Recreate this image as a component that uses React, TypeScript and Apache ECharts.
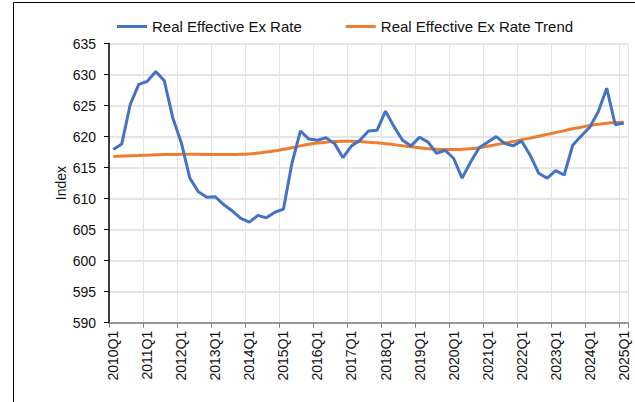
import React, { useEffect, useRef } from "react";
import * as echarts from "echarts";

const years = [2010, 2011, 2012, 2013, 2014, 2015, 2016, 2017, 2018, 2019, 2020, 2021, 2022, 2023, 2024, 2025];
const quarters = ["Q1", "Q2", "Q3", "Q4"];
const categories: string[] = [];
years.forEach((y) => quarters.forEach((q) => { if (y < 2025 || q === "Q1") categories.push(`${y}${q}`); }));

const reerValues = [
  617.9, 618.8, 625.2, 628.4, 628.9, 630.5, 629.0, 623.0,
  619.0, 613.3, 611.1, 610.2, 610.3, 609.0, 608.0, 606.8,
  606.2, 607.3, 606.9, 607.8, 608.3, 615.7, 620.9, 619.6,
  619.4, 619.8, 618.9, 616.6, 618.5, 619.4, 620.9, 621.0,
  624.1, 621.6, 619.4, 618.5, 619.9, 619.1, 617.3, 617.8,
  616.5, 613.3, 615.9, 618.2, 619.1, 620.0, 618.9, 618.5,
  619.3, 617.0, 614.1, 613.3, 614.5, 613.8, 618.6, 620.1,
  621.5, 624.0, 627.8, 621.9, 622.2,
];

const trendValues = [
  616.8, 616.85, 616.9, 616.95, 617.0, 617.05, 617.1, 617.1,
  617.15, 617.15, 617.15, 617.1, 617.1, 617.1, 617.1, 617.15,
  617.2, 617.35, 617.5, 617.7, 617.95, 618.2, 618.5, 618.75,
  618.95, 619.1, 619.2, 619.25, 619.25, 619.2, 619.1, 619.0,
  618.85, 618.7, 618.5, 618.35, 618.2, 618.05, 617.95, 617.9,
  617.9, 617.95, 618.05, 618.2, 618.45, 618.7, 618.95, 619.2,
  619.5, 619.75, 620.05, 620.35, 620.65, 620.95, 621.25, 621.5,
  621.8, 622.0, 622.15, 622.25, 622.3,
];

const seriesNames = ["Real Effective Ex Rate", "Real Effective Ex Rate Trend"];
const seriesColors = ["#4472C4", "#ED7D31"];
const yTicks = { min: 590, max: 635, interval: 5 };

const FONT = "'Liberation Sans', Arial, sans-serif";

export default function App() {
  const ref = useRef<HTMLDivElement>(null);
  useEffect(() => {
    if (!ref.current) return;
    const chart = echarts.init(ref.current, undefined, { renderer: "svg" });
    chart.setOption({
      animation: false,
      textStyle: { fontFamily: FONT },
      graphic: [
        {
          type: "rect",
          shape: { x: 13.5, y: 2.5, width: 800, height: 600 },
          style: { fill: "none", stroke: "#000", lineWidth: 1 },
          silent: true,
        },
      ],
      legend: {
        top: 14,
        left: 112,
        itemGap: 44,
        itemWidth: 30,
        itemHeight: 3,
        icon: "rect",
        textStyle: { fontSize: 15, color: "#111", fontFamily: FONT },
        data: seriesNames,
      },
      grid: { left: 109, right: 7, top: 43.5, bottom: 79.3, containLabel: false },
      xAxis: {
        type: "category",
        data: categories,
        boundaryGap: true,
        axisLine: { show: true, lineStyle: { color: "#7f7f7f", width: 1.5 } },
        axisTick: { show: true, interval: 3, length: 5, lineStyle: { color: "#7f7f7f" } },
        axisLabel: {
          interval: 3,
          rotate: 90,
          margin: 8,
          fontSize: 14,
          color: "#111",
          fontFamily: FONT,
        },
        splitLine: { show: true, interval: 3, lineStyle: { color: "#e3e3e3", width: 1 } },
      },
      yAxis: {
        type: "value",
        min: yTicks.min,
        max: yTicks.max,
        interval: yTicks.interval,
        name: "Index",
        nameLocation: "middle",
        nameGap: 41,
        nameMoveOverlap: false,
        nameTextStyle: { fontSize: 14, color: "#111", fontFamily: FONT },
        axisLine: { show: true, lineStyle: { color: "#000", width: 1.5 } },
        axisTick: { show: true, length: 5, lineStyle: { color: "#000" } },
        axisLabel: { margin: 13, fontSize: 14, color: "#111", fontFamily: FONT },
        splitLine: { show: true, lineStyle: { color: "#dcdcdc", width: 1.5 } },
      },
      series: [
        {
          name: seriesNames[0],
          type: "line",
          data: reerValues,
          symbol: "none",
          lineStyle: { color: seriesColors[0], width: 3 },
          itemStyle: { color: seriesColors[0] },
          z: 3,
        },
        {
          name: seriesNames[1],
          type: "line",
          data: trendValues,
          symbol: "none",
          smooth: true,
          lineStyle: { color: seriesColors[1], width: 3 },
          itemStyle: { color: seriesColors[1] },
          z: 2,
        },
      ],
    });
    return () => chart.dispose();
  }, []);
  return <div ref={ref} style={{ width: 635, height: 402, position: "absolute", left: 0, top: 0 }} />;
}
